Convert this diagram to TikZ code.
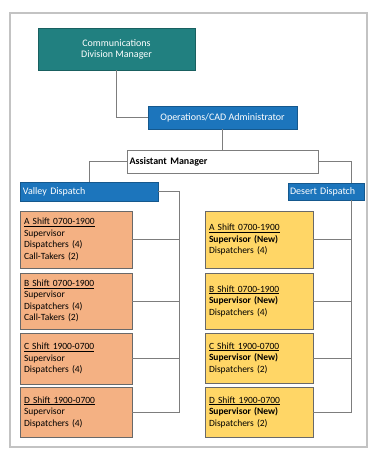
\documentclass[tikz,border=0pt]{standalone}
\usepackage{fontspec}
\setmainfont{Carlito}

\definecolor{commteal}{RGB}{33,128,128}
\definecolor{opsblue}{RGB}{28,117,188}
\definecolor{shiftorange}{RGB}{244,177,131}
\definecolor{shiftyellow}{RGB}{255,214,102}
\definecolor{boxgrey}{RGB}{105,105,105}
\definecolor{linegrey}{RGB}{125,125,125}
\definecolor{framegrey}{RGB}{195,195,195}

\begin{document}
\begin{tikzpicture}[x=1pt,y=-1pt,
    every node/.style={inner sep=0pt, outer sep=0pt},
    headbox/.style={draw=#1!75!black, fill=#1, text=white, anchor=north west,
      font=\fontsize{10}{11}\selectfont},
    shiftbox/.style={draw=boxgrey, line width=0.8pt, fill=#1, anchor=north west,
      align=left, font=\fontsize{9.5}{11.5}\selectfont},
    vshift/.style={shiftbox=shiftorange, minimum width=112, text width=104},
    dshift/.style={shiftbox=shiftyellow, minimum width=108, text width=100},
    link/.style={draw=linegrey, line width=0.8pt}]

    \useasboundingbox (0,0) rectangle (371,452);
    \draw[framegrey, line width=2pt] (10,13) rectangle (367,447);

    % top of the chart
    \node[headbox=commteal, minimum width=157, minimum height=42, align=center] (comm) at (38,28) {Communications\\Division Manager};
    \node[headbox=opsblue, minimum width=149, minimum height=23] (ops) at (148,106) {Operations/CAD Administrator};
    \node[draw=linegrey, fill=white, anchor=north west, minimum width=191, minimum height=23,
      text width=186, align=left, font=\fontsize{10}{11}\selectfont\bfseries] (asst) at (127,150) {Assistant Manager};

    % the two dispatch centres
    \node[headbox=opsblue, minimum width=138, minimum height=19, text width=132, align=left] (valley) at (20,182) {Valley Dispatch};
    \node[headbox=opsblue, minimum width=76, minimum height=17, text width=72, align=left] (desert) at (288,183) {Desert Dispatch};

    % valley shifts
    \node[vshift, minimum height=57] (vA) at (20,211) {\underline{A Shift 0700-1900}\\Supervisor\\Dispatchers (4)\\Call-Takers (2)};
    \node[vshift, minimum height=56] (vB) at (20,273) {\underline{B Shift 0700-1900}\\Supervisor\\Dispatchers (4)\\Call-Takers (2)};
    \node[vshift, minimum height=51] (vC) at (20,333) {\underline{C Shift 1900-0700}\\Supervisor\\Dispatchers (4)};
    \node[vshift, minimum height=50] (vD) at (20,387) {\underline{D Shift 1900-0700}\\Supervisor\\Dispatchers (4)};

    % desert shifts
    \node[dshift, minimum height=57] (dA) at (205,211) {\underline{A Shift 0700-1900}\\\textbf{Supervisor (New)}\\Dispatchers (4)};
    \node[dshift, minimum height=56] (dB) at (205,273) {\underline{B Shift 0700-1900}\\\textbf{Supervisor (New)}\\Dispatchers (4)};
    \node[dshift, minimum height=50] (dC) at (205,333) {\underline{C Shift 1900-0700}\\\textbf{Supervisor (New)}\\Dispatchers (2)};
    \node[dshift, minimum height=50] (dD) at (205,387) {\underline{D Shift 1900-0700}\\\textbf{Supervisor (New)}\\Dispatchers (2)};

    \coordinate (vbus) at (179,0);
    \coordinate (dbus) at (351,0);

    \draw[link] (comm.south) |- (ops.west);
    \draw[link] (ops.south) -- (asst.north);
    \draw[link] (asst.west) -| (valley.north);
    \draw[link] (asst.east) -| (dbus |- desert.north);
    \draw[link] (valley.east) -| (vbus |- vD.east) -- (vD.east);
    \foreach \sh in {vA,vB,vC}
        \draw[link] (\sh.east) -- (\sh.east -| vbus);
    \draw[link] (dbus |- desert.south) |- (dD.east);
    \foreach \sh in {dA,dB,dC}
        \draw[link] (\sh.east) -- (\sh.east -| dbus);
\end{tikzpicture}
\end{document}
